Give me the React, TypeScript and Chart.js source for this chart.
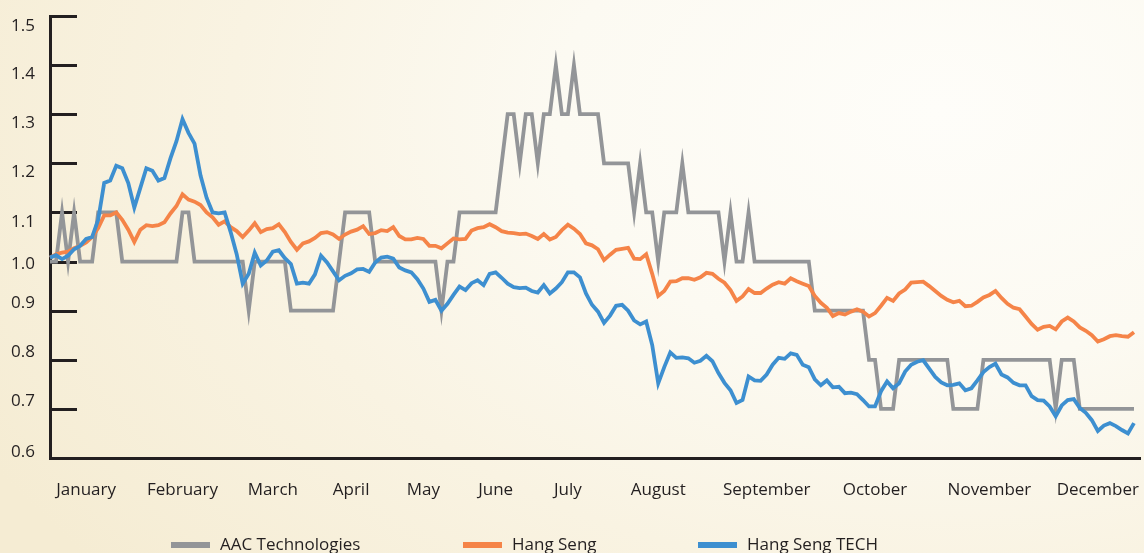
import React, { useEffect, useRef } from 'react';
import { Chart, registerables } from 'chart.js';

Chart.register(...registerables);

// ---------- data ----------
const MONTHS = ['January', 'February', 'March', 'April', 'May', 'June', 'July', 'August', 'September', 'October', 'November', 'December'];
// trading-day index at which each month label sits
const MONTH_DAY = [6, 22, 37, 50, 62, 74, 86, 101, 119, 137, 156, 174];
const DAY_SLOTS = 182;

const SERIES_NAMES = ['AAC Technologies', 'Hang Seng', 'Hang Seng TECH'];

const AAC = [
  1.0, 1.0, 1.1, 1.0, 1.1, 1.0, 1.0, 1.0, 1.1, 1.1,
  1.1, 1.1, 1.0, 1.0, 1.0, 1.0, 1.0, 1.0, 1.0, 1.0,
  1.0, 1.0, 1.1, 1.1, 1.0, 1.0, 1.0, 1.0, 1.0, 1.0,
  1.0, 1.0, 1.0, 0.9, 1.0, 1.0, 1.0, 1.0, 1.0, 1.0,
  0.9, 0.9, 0.9, 0.9, 0.9, 0.9, 0.9, 0.9, 1.0, 1.1,
  1.1, 1.1, 1.1, 1.1, 1.0, 1.0, 1.0, 1.0, 1.0, 1.0,
  1.0, 1.0, 1.0, 1.0, 1.0, 0.9, 1.0, 1.0, 1.1, 1.1,
  1.1, 1.1, 1.1, 1.1, 1.1, 1.2, 1.3, 1.3, 1.2, 1.3,
  1.3, 1.2, 1.3, 1.3, 1.4, 1.3, 1.3, 1.4, 1.3, 1.3,
  1.3, 1.3, 1.2, 1.2, 1.2, 1.2, 1.2, 1.1, 1.2, 1.1,
  1.1, 1.0, 1.1, 1.1, 1.1, 1.2, 1.1, 1.1, 1.1, 1.1,
  1.1, 1.1, 1.0, 1.1, 1.0, 1.0, 1.1, 1.0, 1.0, 1.0,
  1.0, 1.0, 1.0, 1.0, 1.0, 1.0, 1.0, 0.9, 0.9, 0.9,
  0.9, 0.9, 0.9, 0.9, 0.9, 0.9, 0.8, 0.8, 0.7, 0.7,
  0.7, 0.8, 0.8, 0.8, 0.8, 0.8, 0.8, 0.8, 0.8, 0.8,
  0.7, 0.7, 0.7, 0.7, 0.7, 0.8, 0.8, 0.8, 0.8, 0.8,
  0.8, 0.8, 0.8, 0.8, 0.8, 0.8, 0.8, 0.7, 0.8, 0.8,
  0.8, 0.7, 0.7, 0.7, 0.7, 0.7, 0.7, 0.7, 0.7, 0.7,
  0.7,
];

const HANG_SENG = [
  1.008, 1.015, 1.018, 1.02, 1.027, 1.032, 1.039, 1.05, 1.068, 1.094,
  1.094, 1.1, 1.085, 1.065, 1.04, 1.065, 1.074, 1.072, 1.074, 1.08,
  1.098, 1.113, 1.137, 1.126, 1.122, 1.115, 1.1, 1.09, 1.075, 1.082,
  1.07, 1.062, 1.05, 1.063, 1.078, 1.06, 1.066, 1.068, 1.076, 1.06,
  1.04, 1.024, 1.037, 1.041, 1.048, 1.058, 1.06, 1.055, 1.046, 1.055,
  1.061, 1.065, 1.072, 1.056, 1.058, 1.064, 1.062, 1.07, 1.052, 1.045,
  1.045, 1.048, 1.046, 1.032, 1.032, 1.027, 1.037, 1.047, 1.045, 1.046,
  1.063, 1.068, 1.07, 1.076, 1.07, 1.062, 1.059, 1.058, 1.056, 1.057,
  1.052, 1.046, 1.056, 1.045, 1.05, 1.064, 1.075, 1.067, 1.056, 1.037,
  1.033, 1.025, 1.003, 1.014, 1.024, 1.026, 1.028, 1.006, 1.005, 1.015,
  0.975, 0.93, 0.94, 0.959, 0.96, 0.966, 0.966, 0.963, 0.968, 0.977,
  0.975, 0.965, 0.957, 0.942, 0.92, 0.929, 0.944, 0.936, 0.936, 0.945,
  0.953, 0.958, 0.955, 0.966, 0.96, 0.955, 0.95, 0.93, 0.916, 0.906,
  0.889, 0.895, 0.892, 0.898, 0.903, 0.898, 0.888, 0.895, 0.91, 0.926,
  0.92, 0.935, 0.943, 0.957, 0.958, 0.959, 0.95, 0.94, 0.93, 0.922,
  0.917, 0.92, 0.909, 0.91, 0.918, 0.927, 0.932, 0.94, 0.926, 0.914,
  0.906, 0.903, 0.888, 0.873, 0.861, 0.867, 0.869, 0.862, 0.878, 0.886,
  0.878, 0.866, 0.859, 0.85, 0.837, 0.842, 0.848, 0.85, 0.848, 0.847,
  0.856,
];

const HANG_SENG_TECH = [
  1.008, 1.013, 1.005, 1.012, 1.025, 1.032, 1.046, 1.05, 1.085, 1.16,
  1.165, 1.195, 1.19, 1.16, 1.11, 1.15, 1.19, 1.185, 1.165, 1.17,
  1.21, 1.245, 1.29, 1.262, 1.24, 1.175, 1.13, 1.1, 1.098, 1.1,
  1.06, 1.015, 0.955, 0.975, 1.018, 0.992, 1.002, 1.02, 1.023, 1.007,
  0.995, 0.955, 0.957, 0.955, 0.974, 1.012, 0.998, 0.98, 0.962, 0.971,
  0.976, 0.984, 0.985, 0.979, 0.998, 1.008, 1.01, 1.006, 0.988, 0.982,
  0.978, 0.964, 0.945, 0.918, 0.922, 0.9, 0.914, 0.932, 0.949, 0.942,
  0.956, 0.962, 0.952, 0.975, 0.978, 0.967, 0.955, 0.948, 0.946, 0.947,
  0.94, 0.937, 0.952, 0.935, 0.945, 0.958, 0.978, 0.978, 0.968, 0.935,
  0.912, 0.898, 0.875, 0.89, 0.91, 0.912, 0.9, 0.88, 0.872, 0.878,
  0.83, 0.752, 0.785, 0.815, 0.804, 0.805, 0.803, 0.794, 0.798, 0.808,
  0.797, 0.773, 0.753, 0.738, 0.712, 0.718, 0.766, 0.758, 0.757, 0.77,
  0.79, 0.804, 0.802, 0.813, 0.81, 0.79, 0.785, 0.76, 0.748, 0.758,
  0.744, 0.745, 0.732, 0.733, 0.73, 0.718, 0.705, 0.705, 0.736, 0.756,
  0.742, 0.752, 0.776, 0.79, 0.796, 0.799, 0.782, 0.765, 0.754, 0.748,
  0.749, 0.752, 0.738, 0.742, 0.758, 0.775, 0.785, 0.792, 0.77, 0.764,
  0.753, 0.748, 0.748, 0.726, 0.718, 0.717, 0.705, 0.685, 0.707, 0.718,
  0.72, 0.702, 0.692, 0.677, 0.655, 0.666, 0.671, 0.665, 0.657, 0.65,
  0.671,
];

const Y_MIN = 0.6;
const Y_MAX = 1.5;
const Y_STEP = 0.1;

// ---------- styles ----------
const FONT = '"Open Sans", "Noto Sans", sans-serif';
const TEXT = '#231f20';
const AXIS = '#231f20';
const COLORS = ['#939598', '#f58448', '#3d8fd0'];
const LEGEND_LINE_X = [171, 463, 698];
const LEGEND_Y = 545;
// vertical nudge (px) of the y tick labels relative to their tick marks, from 0.6 up to 1.5
const Y_LABEL_NUDGE = [-6, -8, -8, -8, 3, 10, 9, 9, 9, 10];

const tickMarks = {
  id: 'tickMarks',
  beforeDraw(chart: any) {
    const y = chart.scales.y;
    if (!y || typeof y.getLabelItems !== 'function') return;
    const items = y.getLabelItems();
    if (!items || items.__nudged) return;
    items.forEach((it: any, k: number) => {
      const tr = it && it.options && it.options.translation;
      if (tr && Y_LABEL_NUDGE[k] !== undefined) tr[1] += Y_LABEL_NUDGE[k];
    });
    items.__nudged = true;
  },
  beforeDatasetsDraw(chart: any) {
    const y = chart.scales.y;
    const ctx = chart.ctx;
    const left = chart.chartArea.left;
    ctx.save();
    ctx.strokeStyle = AXIS;
    ctx.lineWidth = 3;
    y.ticks.forEach((t: any) => {
      const py = Math.round(y.getPixelForValue(t.value)) + 0.5;
      ctx.beginPath();
      ctx.moveTo(left, py);
      ctx.lineTo(left + 27, py);
      ctx.stroke();
    });
    ctx.restore();
  },
};

const bottomLegend = {
  id: 'bottomLegend',
  afterDraw(chart: any) {
    const ctx = chart.ctx;
    ctx.save();
    ctx.font = `17px ${FONT}`;
    ctx.textBaseline = 'middle';
    ctx.textAlign = 'left';
    chart.data.datasets.forEach((d: any, k: number) => {
      const x = LEGEND_LINE_X[k];
      ctx.strokeStyle = d.borderColor;
      ctx.lineWidth = 6;
      ctx.beginPath();
      ctx.moveTo(x, LEGEND_Y);
      ctx.lineTo(x + 39, LEGEND_Y);
      ctx.stroke();
      ctx.fillStyle = TEXT;
      ctx.fillText(d.label, x + 49, LEGEND_Y);
    });
    ctx.restore();
  },
};

export default function App() {
  const ref = useRef<HTMLCanvasElement>(null);

  useEffect(() => {
    if (!ref.current) return;
    const labels: string[] = Array.from({ length: DAY_SLOTS }, () => '');
    MONTH_DAY.forEach((d, k) => {
      labels[d] = MONTHS[k];
    });
    const seriesValues = [AAC, HANG_SENG, HANG_SENG_TECH];
    const chart = new Chart(ref.current, {
      type: 'line',
      data: {
        labels,
        datasets: seriesValues.map((vals, k) => ({
          label: SERIES_NAMES[k],
          data: vals,
          borderColor: COLORS[k],
          backgroundColor: COLORS[k],
          borderWidth: 3.8,
          pointRadius: 0,
          pointHoverRadius: 0,
          tension: 0,
          fill: false,
          order: 3 - k,
        })),
      },
      options: {
        responsive: false,
        animation: false,
        devicePixelRatio: 1,
        layout: { padding: { top: 16, right: 4, bottom: 45, left: 0 } },
        plugins: {
          legend: { display: false },
          tooltip: { enabled: false },
        },
        scales: {
          x: {
            type: 'category',
            offset: false,
            grid: { display: false, drawTicks: true, tickLength: 22 },
            border: { display: true, color: AXIS, width: 3 },
            ticks: {
              autoSkip: false,
              maxRotation: 0,
              minRotation: 0,
              padding: 0,
              color: TEXT,
              font: { family: FONT, size: 17 },
            },
            afterFit: (s: any) => {
              s.height = 50;
            },
          },
          y: {
            min: Y_MIN,
            max: Y_MAX,
            grid: { display: false, drawTicks: true, tickLength: 15 },
            border: { display: true, color: AXIS, width: 3 },
            ticks: {
              stepSize: Y_STEP,
              padding: 0,
              color: TEXT,
              font: { family: FONT, size: 17 },
              callback: (v: any) => Number(v).toFixed(1),
            },
            afterFit: (s: any) => {
              s.width = 50;
            },
          },
        },
      },
      plugins: [tickMarks, bottomLegend],
    });
    return () => chart.destroy();
  }, []);

  return (
    <div
      style={{
        position: 'fixed',
        left: 0,
        top: 0,
        width: 1144,
        height: 553,
        overflow: 'hidden',
        background:
          'radial-gradient(ellipse 95% 130% at 82% 20%, #fefdf9 0%, #fcfaf2 35%, #f9f3e2 65%, #f5ecd3 100%)',
      }}
    >
      <canvas ref={ref} width={1144} height={553} style={{ display: 'block' }} />
    </div>
  );
}
